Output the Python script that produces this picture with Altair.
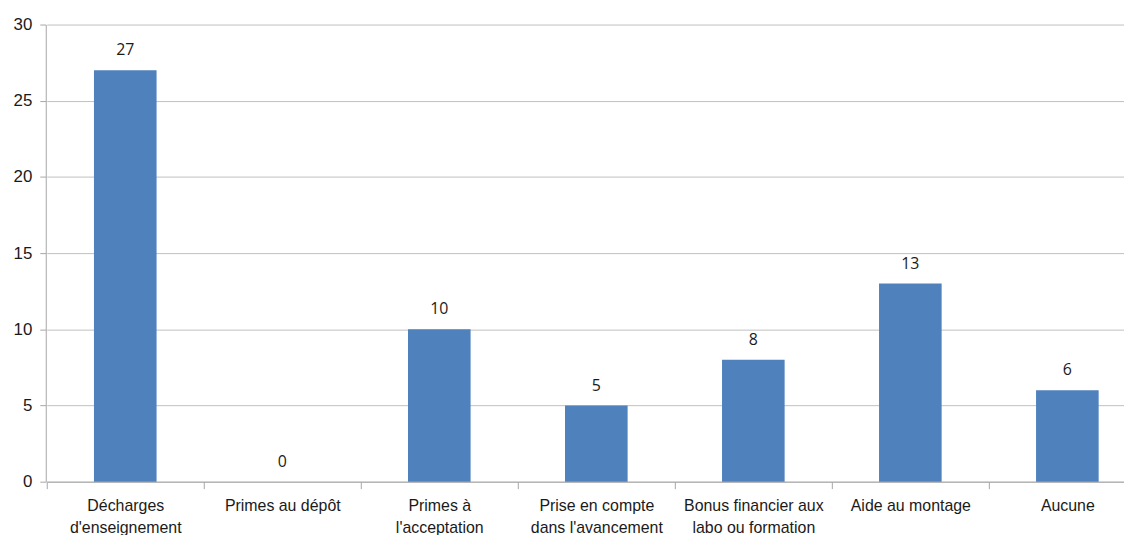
import altair as alt
import pandas as pd

categories = ["Décharges|d'enseignement", "Primes au dépôt", "Primes à|l'acceptation",
              "Prise en compte|dans l'avancement", "Bonus financier aux|labo ou formation",
              "Aide au montage", "Aucune"]
values = [27, 0, 10, 5, 8, 13, 6]

df = pd.DataFrame({"cat": categories, "val": values})

W = 1085
H = 460

x = alt.X("cat:N", sort=categories, title=None,
          scale=alt.Scale(range=[1, 1107], paddingInner=0, paddingOuter=0),
          axis=alt.Axis(labelAngle=0, labelExpr="split(datum.label, '|')",
                        labelFont="Liberation Sans", labelFontSize=16, labelColor="#1a1a1a",
                        labelLineHeight=22, labelPadding=9, tickBand="extent",
                        tickSize=7, tickColor="#A6A6A6", domainColor="#A6A6A6",
                        labelLimit=200, labelBaseline="top"))
y = alt.Y("val:Q", title=None,
          scale=alt.Scale(domain=[0, 30], nice=False),
          axis=alt.Axis(values=[0, 5, 10, 15, 20, 25, 30], labelFont="Liberation Sans",
                        labelFontSize=17, labelColor="#1a1a1a", labelPadding=8,
                        tickSize=6, tickColor="#A6A6A6", domainColor="#A6A6A6",
                        gridColor="#BFBFBF", grid=True))

bars = alt.Chart(df).mark_bar(size=63, color="#4F81BD").encode(x=x, y=y)
labels = alt.Chart(df).mark_text(baseline="bottom", dy=-12, font="Open Sans",
                                 fontSize=16, color="#1a1a1a").encode(
    x=alt.X("cat:N", sort=categories), y="val:Q", text="val:Q")

chart = alt.layer(bars, labels).properties(
    width=W, height=H,
    autosize=alt.AutoSizeParams(type="none"),
    padding={"left": 38, "top": 15, "right": 0, "bottom": 52},
).configure_view(stroke=None)

chart.save("out.html", embed_options={"renderer": "svg", "actions": False})
